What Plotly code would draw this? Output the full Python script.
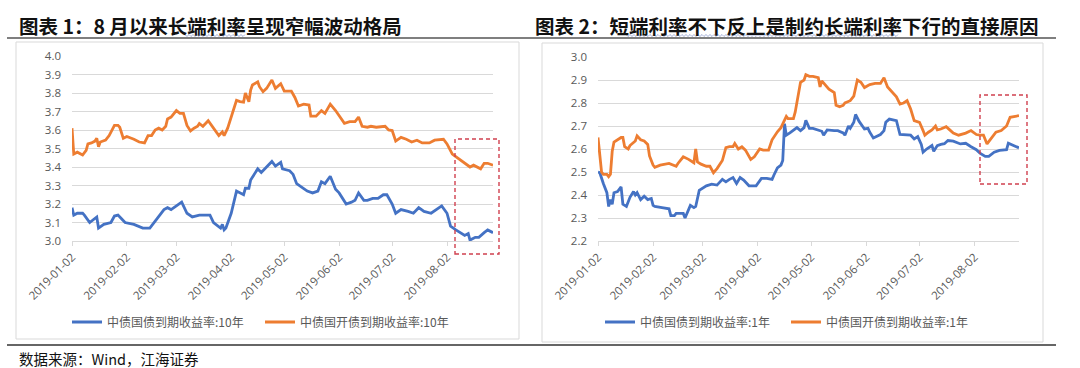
import plotly.graph_objects as go

# ---------------- data ----------------
# Left panel: 10Y yields
l_gov_dates = ["2019-01-02","2019-01-03","2019-01-05","2019-01-08","2019-01-09","2019-01-11","2019-01-12","2019-01-16","2019-01-17","2019-01-20",
               "2019-01-24","2019-01-26","2019-01-28","2019-01-30","2019-02-01","2019-02-06","2019-02-11","2019-02-15","2019-02-19","2019-02-23",
               "2019-02-25","2019-02-27","2019-03-02","2019-03-05","2019-03-08","2019-03-11","2019-03-15","2019-03-21","2019-03-23","2019-03-27",
               "2019-03-28","2019-03-29","2019-03-30","2019-04-02","2019-04-05","2019-04-07","2019-04-09","2019-04-10","2019-04-12","2019-04-13",
               "2019-04-16","2019-04-17","2019-04-19","2019-04-22","2019-04-25","2019-04-27","2019-04-30","2019-05-01","2019-05-05","2019-05-07",
               "2019-05-09","2019-05-12","2019-05-15","2019-05-18","2019-05-21","2019-05-23","2019-05-25","2019-05-28","2019-05-31","2019-06-02",
               "2019-06-06","2019-06-09","2019-06-11","2019-06-13","2019-06-16","2019-06-18","2019-06-21","2019-06-24","2019-06-27","2019-06-29",
               "2019-07-02","2019-07-04","2019-07-07","2019-07-11","2019-07-14","2019-07-17","2019-07-20","2019-07-24","2019-07-27","2019-07-30",
               "2019-08-02","2019-08-04","2019-08-07","2019-08-10","2019-08-12","2019-08-14","2019-08-15","2019-08-18","2019-08-20","2019-08-23",
               "2019-08-25","2019-08-28"]
l_gov10 = [3.18,3.14,3.15,3.15,3.14,3.11,3.10,3.13,3.07,3.09,
           3.10,3.135,3.14,3.12,3.10,3.09,3.07,3.07,3.12,3.17,
           3.18,3.17,3.19,3.21,3.15,3.13,3.14,3.14,3.10,3.07,
           3.09,3.06,3.07,3.15,3.27,3.26,3.25,3.285,3.285,3.33,
           3.38,3.39,3.37,3.40,3.43,3.405,3.425,3.39,3.38,3.36,
           3.31,3.29,3.27,3.26,3.27,3.32,3.31,3.35,3.28,3.26,
           3.20,3.21,3.22,3.26,3.22,3.22,3.23,3.23,3.25,3.25,
           3.20,3.15,3.17,3.16,3.15,3.18,3.16,3.15,3.17,3.19,
           3.15,3.08,3.06,3.04,3.03,3.04,3.005,3.02,3.02,3.045,
           3.06,3.045]

l_cdb_dates = ["2019-01-02","2019-01-03","2019-01-05","2019-01-07","2019-01-08","2019-01-10","2019-01-11","2019-01-13","2019-01-15","2019-01-16",
               "2019-01-17","2019-01-18","2019-01-21","2019-01-23","2019-01-24","2019-01-26","2019-01-28","2019-01-29","2019-01-31","2019-02-02",
               "2019-02-06","2019-02-09","2019-02-12","2019-02-14","2019-02-16","2019-02-18","2019-02-20","2019-02-22","2019-02-24","2019-02-25",
               "2019-02-27","2019-02-28","2019-03-02","2019-03-04","2019-03-06","2019-03-08","2019-03-10","2019-03-12","2019-03-14","2019-03-15",
               "2019-03-17","2019-03-20","2019-03-23","2019-03-26","2019-03-28","2019-03-29","2019-03-31","2019-04-02","2019-04-05","2019-04-07",
               "2019-04-09","2019-04-10","2019-04-12","2019-04-13","2019-04-14","2019-04-17","2019-04-18","2019-04-20","2019-04-22","2019-04-25",
               "2019-04-27","2019-04-30","2019-05-02","2019-05-06","2019-05-08","2019-05-10","2019-05-13","2019-05-16","2019-05-17","2019-05-20",
               "2019-05-23","2019-05-25","2019-05-28","2019-05-31","2019-06-02","2019-06-05","2019-06-08","2019-06-11","2019-06-13","2019-06-15",
               "2019-06-18","2019-06-20","2019-06-23","2019-06-26","2019-06-28","2019-06-30","2019-07-02","2019-07-04","2019-07-07","2019-07-10",
               "2019-07-13","2019-07-16","2019-07-19","2019-07-23","2019-07-26","2019-07-31","2019-08-02","2019-08-05","2019-08-07","2019-08-10",
               "2019-08-12","2019-08-15","2019-08-17","2019-08-19","2019-08-21","2019-08-23","2019-08-25","2019-08-28"]
l_cdb10 = [3.61,3.47,3.48,3.47,3.465,3.49,3.525,3.53,3.54,3.555,
           3.51,3.535,3.545,3.57,3.59,3.625,3.625,3.615,3.555,3.565,
           3.55,3.535,3.53,3.57,3.57,3.60,3.61,3.60,3.62,3.66,
           3.67,3.68,3.705,3.69,3.69,3.625,3.595,3.61,3.62,3.635,
           3.62,3.65,3.61,3.57,3.59,3.57,3.61,3.67,3.76,3.753,
           3.75,3.80,3.753,3.816,3.843,3.86,3.834,3.807,3.825,3.87,
           3.825,3.85,3.81,3.81,3.776,3.73,3.74,3.735,3.675,3.675,
           3.705,3.69,3.74,3.705,3.68,3.636,3.645,3.645,3.67,3.62,
           3.615,3.62,3.615,3.62,3.62,3.60,3.597,3.54,3.56,3.55,
           3.535,3.545,3.53,3.53,3.545,3.55,3.525,3.47,3.456,3.434,
           3.42,3.40,3.41,3.40,3.39,3.42,3.42,3.41]

# Right panel: 1Y yields
r_gov_dates = ["2019-01-02","2019-01-03","2019-01-05","2019-01-06","2019-01-07","2019-01-08","2019-01-09","2019-01-10","2019-01-11","2019-01-13",
               "2019-01-15","2019-01-16","2019-01-18","2019-01-20","2019-01-22","2019-01-23","2019-01-24","2019-01-26","2019-01-28","2019-01-30",
               "2019-02-01","2019-02-02","2019-02-03","2019-02-07","2019-02-11","2019-02-12","2019-02-14","2019-02-15","2019-02-17","2019-02-19",
               "2019-02-20","2019-02-23","2019-02-25","2019-02-26","2019-02-28","2019-03-03","2019-03-04","2019-03-07","2019-03-10","2019-03-13",
               "2019-03-15","2019-03-17","2019-03-19","2019-03-21","2019-03-23","2019-03-25","2019-03-28","2019-04-01","2019-04-04","2019-04-07",
               "2019-04-10","2019-04-11","2019-04-13","2019-04-15","2019-04-16","2019-04-17","2019-04-18","2019-04-20","2019-04-24","2019-04-26",
               "2019-04-28","2019-04-29","2019-05-01","2019-05-03","2019-05-07","2019-05-08","2019-05-09","2019-05-11","2019-05-15","2019-05-17",
               "2019-05-20","2019-05-21","2019-05-23","2019-05-24","2019-05-26","2019-05-27","2019-05-29","2019-06-01","2019-06-03","2019-06-04",
               "2019-06-06","2019-06-10","2019-06-12","2019-06-13","2019-06-15","2019-06-17","2019-06-19","2019-06-21","2019-06-24","2019-06-27",
               "2019-06-29","2019-07-01","2019-07-03","2019-07-04","2019-07-06","2019-07-09","2019-07-10","2019-07-12","2019-07-14","2019-07-16",
               "2019-07-18","2019-07-21","2019-07-25","2019-07-28","2019-07-31","2019-08-03","2019-08-05","2019-08-08","2019-08-10","2019-08-13",
               "2019-08-16","2019-08-20","2019-08-21","2019-08-24","2019-08-27"]
r_gov1 = [2.50,2.497,2.45,2.43,2.41,2.35,2.38,2.36,2.41,2.415,
          2.435,2.36,2.35,2.39,2.415,2.40,2.41,2.38,2.395,2.38,
          2.385,2.355,2.35,2.345,2.34,2.31,2.31,2.32,2.32,2.32,
          2.30,2.355,2.345,2.35,2.42,2.435,2.44,2.447,2.443,2.468,
          2.457,2.468,2.476,2.45,2.476,2.465,2.44,2.44,2.472,2.472,
          2.468,2.486,2.518,2.53,2.55,2.71,2.66,2.67,2.693,2.68,
          2.693,2.725,2.69,2.69,2.68,2.677,2.66,2.683,2.68,2.68,
          2.67,2.66,2.70,2.69,2.716,2.75,2.72,2.687,2.69,2.673,
          2.648,2.663,2.68,2.716,2.73,2.726,2.723,2.663,2.663,2.66,
          2.644,2.654,2.62,2.586,2.60,2.615,2.59,2.615,2.62,2.623,
          2.637,2.634,2.622,2.625,2.61,2.597,2.582,2.568,2.568,2.586,
          2.594,2.597,2.625,2.615,2.605]

r_cdb_dates = ["2019-01-02","2019-01-03","2019-01-04","2019-01-05","2019-01-07","2019-01-08","2019-01-09","2019-01-10","2019-01-11","2019-01-15",
               "2019-01-16","2019-01-17","2019-01-19","2019-01-20","2019-01-22","2019-01-23","2019-01-24","2019-01-26","2019-01-28","2019-01-30",
               "2019-01-31","2019-02-02","2019-02-03","2019-02-06","2019-02-11","2019-02-13","2019-02-15","2019-02-16","2019-02-19","2019-02-22",
               "2019-02-25","2019-02-26","2019-02-27","2019-03-01","2019-03-04","2019-03-06","2019-03-08","2019-03-10","2019-03-13","2019-03-15",
               "2019-03-17","2019-03-19","2019-03-20","2019-03-22","2019-03-24","2019-03-26","2019-03-29","2019-03-31","2019-04-03","2019-04-05",
               "2019-04-08","2019-04-10","2019-04-11","2019-04-13","2019-04-15","2019-04-17","2019-04-18","2019-04-19","2019-04-22","2019-04-23",
               "2019-04-25","2019-04-26","2019-04-28","2019-04-29","2019-05-01","2019-05-03","2019-05-06","2019-05-07","2019-05-08","2019-05-10",
               "2019-05-12","2019-05-15","2019-05-16","2019-05-18","2019-05-20","2019-05-21","2019-05-24","2019-05-26","2019-05-28","2019-05-30",
               "2019-06-01","2019-06-04","2019-06-07","2019-06-10","2019-06-12","2019-06-14","2019-06-17","2019-06-19","2019-06-21","2019-06-23",
               "2019-06-25","2019-06-27","2019-06-29","2019-07-02","2019-07-04","2019-07-05","2019-07-07","2019-07-09","2019-07-11","2019-07-12",
               "2019-07-14","2019-07-17","2019-07-19","2019-07-21","2019-07-24","2019-07-28","2019-07-31","2019-08-03","2019-08-05","2019-08-07",
               "2019-08-09","2019-08-11","2019-08-14","2019-08-17","2019-08-20","2019-08-22","2019-08-24","2019-08-27"]
r_cdb1 = [2.65,2.57,2.50,2.49,2.49,2.48,2.49,2.59,2.63,2.65,
          2.65,2.61,2.60,2.615,2.63,2.635,2.657,2.64,2.635,2.62,
          2.57,2.53,2.52,2.53,2.537,2.53,2.525,2.537,2.566,2.555,
          2.54,2.60,2.544,2.534,2.525,2.525,2.497,2.515,2.55,2.606,
          2.61,2.61,2.624,2.60,2.61,2.595,2.555,2.566,2.60,2.595,
          2.595,2.64,2.653,2.675,2.693,2.725,2.742,2.732,2.732,2.76,
          2.855,2.89,2.90,2.923,2.916,2.916,2.91,2.87,2.896,2.88,
          2.86,2.845,2.79,2.784,2.79,2.80,2.81,2.83,2.90,2.89,
          2.867,2.88,2.885,2.885,2.91,2.87,2.846,2.827,2.795,2.80,
          2.81,2.774,2.723,2.716,2.68,2.66,2.673,2.683,2.70,2.683,
          2.687,2.697,2.683,2.669,2.66,2.669,2.68,2.663,2.66,2.66,
          2.622,2.644,2.673,2.68,2.70,2.738,2.74,2.745]

x_tick_dates = ["2019-01-02","2019-02-02","2019-03-02","2019-04-02","2019-05-02","2019-06-02","2019-07-02","2019-08-02"]
l_y_ticks = [3.0,3.1,3.2,3.3,3.4,3.5,3.6,3.7,3.8,3.9,4.0]
r_y_ticks = [2.2,2.3,2.4,2.5,2.6,2.7,2.8,2.9,3.0]

names_left = ["中债国债到期收益率:10年", "中债国开债到期收益率:10年"]
names_right = ["中债国债到期收益率:1年", "中债国开债到期收益率:1年"]
title_left = "图表 1：8 月以来长端利率呈现窄幅波动格局"
title_right = "图表 2：短端利率不下反上是制约长端利率下行的直接原因"
source_text = "数据来源：Wind，江海证券"

# ---------------- styling ----------------
W, H = 1080, 368
BLUE = "#4472C4"
ORANGE = "#ED7D31"
GRID = "#D9D9D9"
TXT = "#595959"
CJK = "Noto Sans CJK SC"

def px(x):
    return x / W

def py(y):
    return 1 - y / H

fig = go.Figure()

fig.add_trace(go.Scatter(x=l_gov_dates, y=l_gov10, name=names_left[0], mode="lines",
                         line=dict(color=BLUE, width=2.8), xaxis="x", yaxis="y", legend="legend"))
fig.add_trace(go.Scatter(x=l_cdb_dates, y=l_cdb10, name=names_left[1], mode="lines",
                         line=dict(color=ORANGE, width=2.8), xaxis="x", yaxis="y", legend="legend"))
fig.add_trace(go.Scatter(x=r_gov_dates, y=r_gov1, name=names_right[0], mode="lines",
                         line=dict(color=BLUE, width=2.8), xaxis="x2", yaxis="y2", legend="legend2"))
fig.add_trace(go.Scatter(x=r_cdb_dates, y=r_cdb1, name=names_right[1], mode="lines",
                         line=dict(color=ORANGE, width=2.8), xaxis="x2", yaxis="y2", legend="legend2"))

xaxis_common = dict(type="date", tickvals=x_tick_dates, ticktext=x_tick_dates, tickangle=-45,
                    showgrid=False, showline=True, linecolor=GRID, linewidth=1,
                    ticks="outside", ticklen=4, tickcolor=GRID, tickwidth=1, automargin=False,
                    tickfont=dict(family="Open Sans", size=11.5, color=TXT), zeroline=False)
yaxis_common = dict(showgrid=True, gridcolor=GRID, gridwidth=1, showline=False, ticks="",
                    tickformat=".1f", zeroline=False, ticklabelstandoff=10, automargin=False,
                    tickfont=dict(family="Open Sans", size=11.5, color=TXT))

fig.update_layout(
    template="none",
    width=W, height=H, margin=dict(l=0, r=0, t=0, b=0, autoexpand=False),
    paper_bgcolor="white", plot_bgcolor="white",
    xaxis=dict(xaxis_common, domain=[px(72), px(493)], range=["2019-01-02", "2019-08-28"], anchor="y"),
    yaxis=dict(yaxis_common, domain=[py(241), py(56)], range=[3.0, 4.0], tickvals=l_y_ticks, anchor="x"),
    xaxis2=dict(xaxis_common, domain=[px(598), px(1019)], range=["2019-01-02", "2019-08-27"], anchor="y2"),
    yaxis2=dict(yaxis_common, domain=[py(241), py(57)], range=[2.2, 3.0], tickvals=r_y_ticks, anchor="x2"),
    legend=dict(orientation="h", x=px(67), y=py(322), xanchor="left", yanchor="middle",
                entrywidth=148, entrywidthmode="pixels", bgcolor="rgba(0,0,0,0)",
                font=dict(family=CJK, size=12, color=TXT), itemwidth=30),
    legend2=dict(orientation="h", x=px(600), y=py(322), xanchor="left", yanchor="middle",
                 entrywidth=141, entrywidthmode="pixels", bgcolor="rgba(0,0,0,0)",
                 font=dict(family=CJK, size=12, color=TXT), itemwidth=30),
    showlegend=True,
)

shapes = []
# chart frames
shapes.append(dict(type="rect", xref="paper", yref="paper", x0=px(16), x1=px(519), y0=py(339), y1=py(42),
                   line=dict(color=GRID, width=1), layer="below"))
shapes.append(dict(type="rect", xref="paper", yref="paper", x0=px(542), x1=px(1043), y0=py(342), y1=py(43),
                   line=dict(color=GRID, width=1), layer="below"))
# title underline and footer line
shapes.append(dict(type="line", xref="paper", yref="paper", x0=px(7), x1=px(1056), y0=py(38), y1=py(38),
                   line=dict(color="#555555", width=1.3)))
shapes.append(dict(type="line", xref="paper", yref="paper", x0=px(7), x1=px(1056), y0=py(345), y1=py(345),
                   line=dict(color="#333333", width=1.3)))
# red dashed highlight boxes
shapes.append(dict(type="rect", xref="paper", yref="paper", x0=px(455), x1=px(499), y0=py(254), y1=py(139),
                   line=dict(color="#D0404F", width=1.4, dash="4px,3px")))
shapes.append(dict(type="rect", xref="paper", yref="paper", x0=px(980), x1=px(1027), y0=py(184), y1=py(95),
                   line=dict(color="#D0404F", width=1.4, dash="4px,3px")))

# faint wavy (spell-check style) underlines beneath parts of the titles
def wavy_path(x0, x1, yc, amp=1.0, step=2.0):
    pts = []
    x = x0
    k = 0
    while x <= x1:
        yy = yc + (amp if k % 2 else -amp)
        pts.append((px(x), py(yy)))
        x += step
        k += 1
    return "M" + " L".join(f"{a:.5f},{b:.5f}" for a, b in pts)

for (wx0, wx1) in [(185, 245), (626, 898)]:
    shapes.append(dict(type="path", xref="paper", yref="paper", path=wavy_path(wx0, wx1, 35.5),
                       line=dict(color="#7F8FC8", width=0.7)))
fig.update_layout(shapes=shapes)

annotations = [
    dict(text="<b>" + title_left + "</b>", x=px(17), y=py(25), xref="paper", yref="paper",
         xanchor="left", yanchor="middle", showarrow=False,
         font=dict(family=CJK, size=19.5, color="#111111")),
    dict(text="<b>" + title_right + "</b>", x=px(533), y=py(25), xref="paper", yref="paper",
         xanchor="left", yanchor="middle", showarrow=False,
         font=dict(family=CJK, size=19.5, color="#111111")),
    dict(text=source_text, x=px(17), y=py(358), xref="paper", yref="paper",
         xanchor="left", yanchor="middle", showarrow=False,
         font=dict(family=CJK, size=14.5, color="#111111")),
]
fig.update_layout(annotations=annotations)

fig.write_html("out.html")
